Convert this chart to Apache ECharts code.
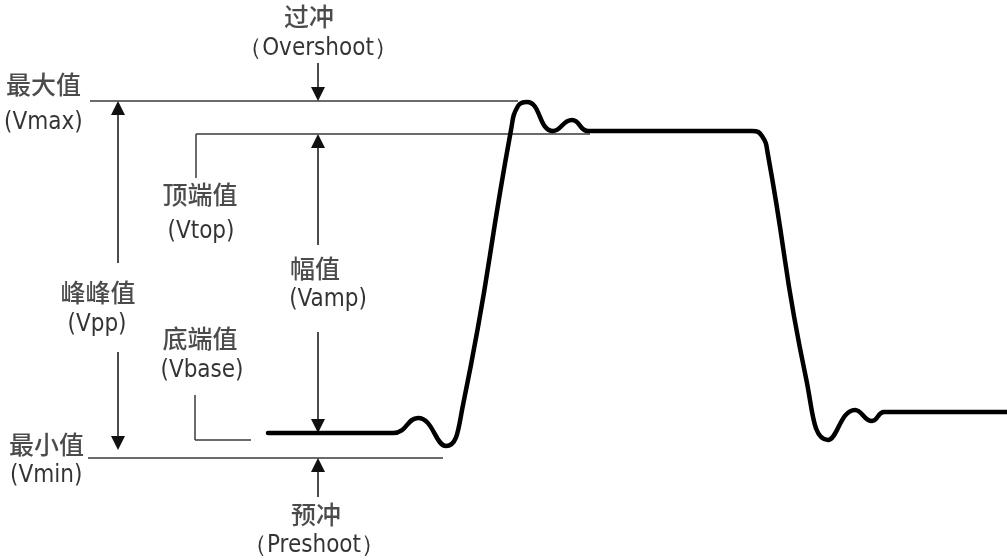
<!DOCTYPE html>
<html>
<head>
<meta charset="utf-8">
<script src="https://cdn.jsdelivr.net/npm/echarts@6/dist/echarts.min.js"></script>
<style>
  html, body { margin: 0; padding: 0; background: #fff; }
  #main { width: 1007px; height: 560px; }
</style>
</head>
<body>
<div id="main"></div>
<script>
// waveform (time on x, level on y, y grows downward)
const waveT = [268, 393, 418, 446, 463, 511, 518, 527, 553, 572, 588, 600,
  752, 762, 768, 806, 828, 855, 872, 884, 895, 1007]
const waveV = [433, 433, 418, 446, 405, 130, 106, 102, 131, 120, 131, 131,
  131, 136, 155, 378, 440, 410, 421, 412, 412, 412]

// reference levels
const vmax = 101
const vtop = 134
const vbase = 433
const vmin = 458

// thin guide lines [[x1, y1], [x2, y2]]
const guides = [
  [[90, vmax], [518, vmax]],
  [[196, vtop], [590, vtop]],
  [[196, vtop], [196, 178]],
  [[195, 395], [195, 440]],
  [[195, 440], [251, 440]],
  [[88, vmin], [443, vmin]]
]

// arrows: start -> tip
const arrows = [
  [[118, 263], [118, vmax]],
  [[118, 352], [118, 450]],
  [[318, 63], [318, vmax]],
  [[318, 245], [318, vtop]],
  [[318, 332], [318, vbase]],
  [[318, 497], [318, vmin]]
]

// annotation texts and anchors
const labelText = ['过冲', '（Overshoot）', '最大值', '(Vmax)', '顶端值', '(Vtop)', '峰峰值', '(Vpp)',
  '幅值', '(Vamp)', '底端值', '(Vbase)', '最小值', '(Vmin)', '预冲', '（Preshoot）']
const labelX = [309, 318, 6, 4, 200, 201, 98, 97, 315, 328, 200, 202, 9, 10, 316, 314]
const labelY = [16, 49, 84, 123, 194, 232, 292, 325, 268, 300, 338, 371, 444, 476, 514, 546]
const labelAlign = ['center', 'center', 'left', 'left', 'center', 'center', 'center', 'center',
  'center', 'center', 'center', 'center', 'left', 'left', 'center', 'center']

const ARROW = [14, 14]

const chart = echarts.init(document.getElementById('main'), null, { renderer: 'canvas' })

const wave = waveT.map((t, i) => [t, waveV[i]])

// pull arrow ends back by half the head so the tip sits on the target
const arrowData = arrows.map(a => {
  const [p, q] = a
  const dx = q[0] - p[0]
  const dy = q[1] - p[1]
  const len = Math.sqrt(dx * dx + dy * dy)
  const k = (ARROW[1] / 2) / len
  return { coords: [p, [q[0] - dx * k, q[1] - dy * k]] }
})

const labelData = labelText.map((s, i) => {
  const cjk = /[\u4e00-\u9fff]/.test(s)
  return {
    value: [labelX[i], labelY[i]],
    name: s,
    label: {
      align: labelAlign[i],
      fontSize: cjk ? 25 : 24,
      fontWeight: cjk ? 500 : 'normal',
      fontFamily: cjk ? '"Noto Sans CJK SC", sans-serif' : '"DejaVu Sans Condensed", "Liberation Sans", sans-serif',
      color: cjk ? '#1e1e1e' : '#000'
    }
  }
})

chart.setOption({
  animation: false,
  backgroundColor: '#fff',
  grid: { left: 0, right: 0, top: 0, bottom: 0 },
  xAxis: { type: 'value', min: 0, max: 1007, show: false },
  yAxis: { type: 'value', min: 0, max: 560, inverse: true, show: false },
  series: [
    {
      type: 'lines',
      coordinateSystem: 'cartesian2d',
      symbol: ['none', 'none'],
      lineStyle: { color: '#3a3a3a', width: 1.5, opacity: 1 },
      data: guides.map(g => ({ coords: g })),
      z: 1
    },
    {
      type: 'lines',
      coordinateSystem: 'cartesian2d',
      symbol: ['none', 'triangle'],
      symbolSize: ARROW,
      lineStyle: { color: '#111', width: 1.5, opacity: 1 },
      data: arrowData,
      z: 2
    },
    {
      type: 'line',
      data: wave,
      smooth: 0.5,
      showSymbol: false,
      lineStyle: { color: '#000', width: 4.5, cap: 'round', join: 'round' },
      z: 3
    },
    {
      type: 'scatter',
      symbolSize: 0,
      data: labelData,
      label: {
        show: true,
        position: 'inside',
        verticalAlign: 'middle',
        formatter: p => p.name
      },
      z: 4
    }
  ]
})
</script>
</body>
</html>
